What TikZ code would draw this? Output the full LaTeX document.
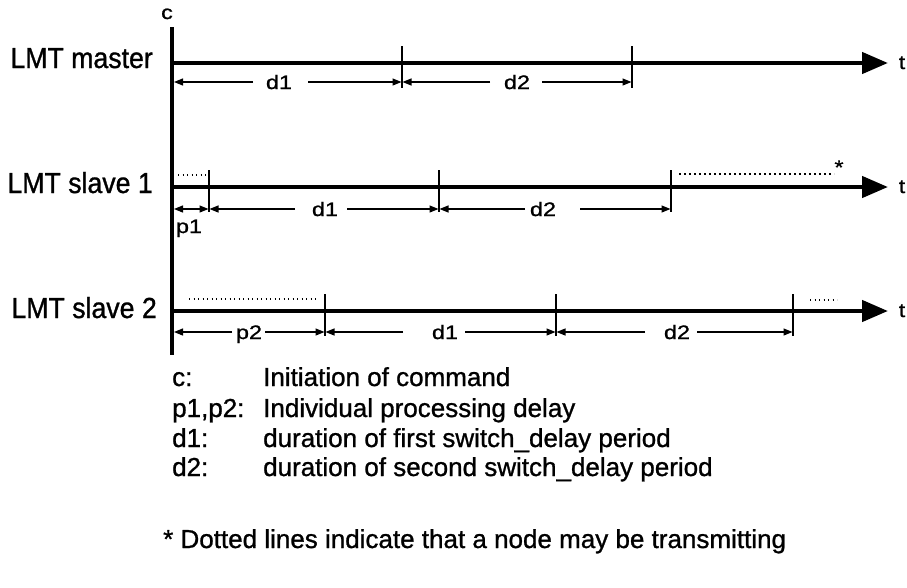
\documentclass[tikz,border=0pt]{standalone}
\usepackage{fontspec}
\setmainfont{Liberation Sans}[FakeBold=1]
\newfontfamily\lanefont{Liberation Sans}[FakeStretch=0.92,FakeBold=1]
\newfontfamily\markfont{Liberation Sans}[FakeStretch=1.2,FakeBold=1]
\usetikzlibrary{arrows.meta}

% dimension span: name, y, left tick x, gap left x, text x, gap right x, right tick x, text
\newcommand\spanarrow[8]{%
  \node[small] (#1) at (#5,#2+7) {#8};
  \coordinate (#1-l) at (#3,#2);
  \coordinate (#1-gl) at (#4,#2);
  \coordinate (#1-gr) at (#6,#2);
  \coordinate (#1-r) at (#7,#2);
  \draw[dim] (#1-gl) -- (#1-l);
  \draw[dim] (#1-gr) -- (#1-r);}
% vertical tick: name, x, line y
\newcommand\tickmark[3]{%
  \coordinate (#1-top) at (#2,#3-17);
  \coordinate (#1-bot) at (#2,#3+25);
  \draw[tickline] (#1-top) -- (#1-bot);}

\begin{document}
\begin{tikzpicture}[x=1pt,y=-1pt,
  axis/.style={line width=4.5pt,-{Triangle[length=26pt,width=21pt]}},
  cline/.style={line width=3.5pt},
  tickline/.style={line width=1.3pt},
  dim/.style={line width=1.2pt,-{Triangle[length=9pt,width=7pt]}},
  dots/.style={line width=2pt,dash pattern=on 2pt off 3pt},
  fdots/.style={line width=1.2pt,dash pattern=on 1.2pt off 3.3pt},
  lane/.style={font=\lanefont\fontsize{29}{32}\selectfont,anchor=base east,inner sep=0pt},
  small/.style={font=\markfont\fontsize{19.5}{22}\selectfont,anchor=base,inner sep=0pt},
  legend/.style={font=\fontsize{26}{30}\selectfont,anchor=base west,inner sep=0pt}]
\useasboundingbox (0,0) rectangle (907,587);

% command instant
\node[small] (c) at (167,19) {c};
\coordinate (c-top) at (172,27);
\coordinate (c-bot) at (172,355);
\draw[cline] (c-top) -- (c-bot);

% lane labels
\node[lane] (master) at (153,68) {LMT master};
\node[lane] (slave1) at (153,193) {LMT slave 1};
\node[lane] (slave2) at (157,318) {LMT slave 2};

% time axes
\foreach \n/\y in {m/63, s/187, r/311}{
  \coordinate (\n-start) at (172,\y);
  \coordinate (\n-end) at (888,\y);
  \draw[axis] (\n-start) -- (\n-end);
  \node[small] (\n-t) at (902,\y+6) {t};
}

% master
\tickmark{mA}{402}{63}
\tickmark{mB}{632}{63}
\spanarrow{md1}{82}{174}{253}{279}{308}{401.5}{d1}
\spanarrow{md2}{82}{402.5}{490}{517}{542}{631.5}{d2}

% slave 1
\tickmark{sA}{209}{187}
\tickmark{sB}{439}{187}
\tickmark{sC}{671}{187}
\coordinate (sp1-l) at (174,209);
\coordinate (sp1-r) at (208.5,209);
\draw[dim,{Triangle[length=9pt,width=7pt]}-{Triangle[length=9pt,width=7pt]}] (sp1-l) -- (sp1-r);
\node[small] (p1) at (189,233) {p1};
\spanarrow{sd1}{209}{209.5}{295}{325}{347}{438.5}{d1}
\spanarrow{sd2}{209}{439.5}{525}{543}{580}{670.5}{d2}
\coordinate (s-dot1a) at (178,175);
\coordinate (s-dot1b) at (206,175);
\draw[fdots] (s-dot1a) -- (s-dot1b);
\coordinate (s-dot2a) at (679,174);
\coordinate (s-dot2b) at (834,174);
\draw[dots] (s-dot2a) -- (s-dot2b);
\node[small] (star) at (839,174) {*};

% slave 2
\tickmark{rA}{325}{311}
\tickmark{rB}{556}{311}
\tickmark{rC}{793}{311}
\spanarrow{rp2}{332}{174}{232}{249}{265}{324.5}{p2}
\spanarrow{rd1}{332}{325.5}{403}{445}{465}{555.5}{d1}
\spanarrow{rd2}{332}{556.5}{645}{677}{697}{792.5}{d2}
\coordinate (r-dot1a) at (189,299);
\coordinate (r-dot1b) at (318,299);
\draw[fdots] (r-dot1a) -- (r-dot1b);
\coordinate (r-dot2a) at (810,300);
\coordinate (r-dot2b) at (837,300);
\draw[fdots] (r-dot2a) -- (r-dot2b);

% legend
\node[legend] (k1) at (172,386) {c:};
\node[legend] (v1) at (263,386) {Initiation of command};
\node[legend] (k2) at (172,417) {p1,p2:};
\node[legend] (v2) at (263,417) {Individual processing delay};
\node[legend] (k3) at (172,447) {d1:};
\node[legend] (v3) at (263,447) {duration of first switch\_delay period};
\node[legend] (k4) at (172,476) {d2:};
\node[legend] (v4) at (263,476) {duration of second switch\_delay period};
\node[legend] (note) at (163,548) {* Dotted lines indicate that a node may be transmitting};
\end{tikzpicture}
\end{document}
